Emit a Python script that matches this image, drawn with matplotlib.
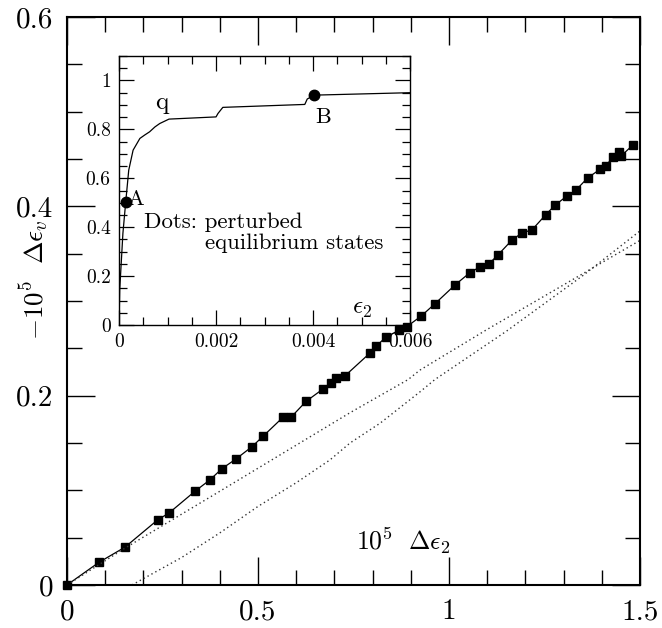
import numpy as np
import matplotlib.pyplot as plt
import matplotlib.ticker as ticker

plt.rcParams['font.family'] = 'serif'
plt.rcParams['font.serif'] = ['cmr10']
plt.rcParams['mathtext.fontset'] = 'cm'
plt.rcParams['axes.formatter.use_mathtext'] = True

# main panel: perturbed equilibrium states (squares joined by solid line)
de2 = [0.0, 0.084, 0.152, 0.238, 0.267, 0.335, 0.374, 0.406, 0.442, 0.484,
       0.513, 0.565, 0.586, 0.626, 0.670, 0.691, 0.704, 0.728, 0.793, 0.809,
       0.835, 0.869, 0.890, 0.927, 0.963, 1.016, 1.055, 1.081, 1.104, 1.129,
       1.164, 1.191, 1.217, 1.253, 1.277, 1.309, 1.332, 1.363, 1.395, 1.411,
       1.429, 1.445, 1.450, 1.482]
dev = [0.0, 0.024, 0.040, 0.069, 0.076, 0.099, 0.111, 0.123, 0.133, 0.146,
       0.157, 0.177, 0.177, 0.194, 0.207, 0.213, 0.219, 0.221, 0.245, 0.252,
       0.262, 0.269, 0.273, 0.284, 0.297, 0.317, 0.330, 0.336, 0.339, 0.349,
       0.364, 0.372, 0.375, 0.391, 0.401, 0.411, 0.417, 0.430, 0.439, 0.443,
       0.452, 0.457, 0.453, 0.465]

# dotted curves
dot1_x = [0.0, 0.152, 0.40, 0.741, 0.893, 0.924, 1.10, 1.351, 1.5]
dot1_y = [0.0, 0.039, 0.099, 0.182, 0.217, 0.227, 0.270, 0.329, 0.364]
dot2_x = [0.17, 0.30, 0.40, 0.50, 0.60, 0.688, 0.741, 0.82, 0.924, 0.963, 1.15, 1.351, 1.5]
dot2_y = [0.0, 0.029, 0.055, 0.083, 0.108, 0.132, 0.150, 0.171, 0.204, 0.217, 0.268, 0.327, 0.374]

# inset: q vs eps2
eps2 = [0.0, 0.000014, 0.00008, 0.000137, 0.0002, 0.00029, 0.00043, 0.00053,
        0.00063, 0.00074, 0.00084, 0.00103, 0.0020, 0.00204, 0.00214, 0.00383,
        0.00388, 0.00402, 0.0060]
q = [0.0, 0.143, 0.375, 0.501, 0.633, 0.715, 0.763, 0.777, 0.790, 0.810,
     0.824, 0.842, 0.851, 0.865, 0.890, 0.902, 0.924, 0.940, 0.950]
dots_x = [0.000137, 0.00402]
dots_y = [0.501, 0.940]

fig = plt.figure(figsize=(6.62, 6.28), dpi=100)
ax = fig.add_axes([0.1012, 0.0685, 0.8656, 0.9045])
ax.set_zorder(2)
ax.patch.set_visible(False)

ax.plot(de2, dev, color='black', lw=0.9, marker='s', ms=5.5, clip_on=False)
ax.plot(dot1_x, dot1_y, color='#333333', lw=1.0, ls=(0, (1, 2.2)))
ax.plot(dot2_x, dot2_y, color='#333333', lw=1.0, ls=(0, (1, 2.2)))

ax.set_xlim(0, 1.5)
ax.set_ylim(0, 0.6)
ax.xaxis.set_major_locator(ticker.MultipleLocator(0.5))
ax.xaxis.set_minor_locator(ticker.MultipleLocator(0.1))
ax.yaxis.set_major_locator(ticker.MultipleLocator(0.2))
ax.yaxis.set_minor_locator(ticker.MultipleLocator(0.05))
ax.xaxis.set_major_formatter(ticker.FuncFormatter(lambda v, p: '%g' % v))
ax.yaxis.set_major_formatter(ticker.FuncFormatter(lambda v, p: '%g' % v))
ax.tick_params(which='both', direction='in', top=True, right=True,
               labelsize=21, pad=10, width=1.0)
ax.tick_params(which='major', length=20)
ax.tick_params(which='minor', length=11)
for s in ax.spines.values():
    s.set_linewidth(1.5)

ax.text(0.757, 0.037, r'$10^5\ \ \Delta\epsilon_2$', fontsize=18.5)
ax.text(-0.058, 0.537, r'$-10^5\ \ \Delta\epsilon_v$', fontsize=19.5,
        rotation=90, ha='center', va='center', transform=ax.transAxes)

# inset
axi = fig.add_axes([0.1798, 0.4825, 0.4396, 0.4283])
axi.set_zorder(1)
axi.plot(eps2, q, color='black', lw=0.9)
axi.plot(dots_x, dots_y, 'o', color='black', ms=7.5)
axi.set_xlim(0, 0.006)
axi.set_ylim(0, 1.1)
axi.xaxis.set_major_locator(ticker.MultipleLocator(0.002))
axi.xaxis.set_minor_locator(ticker.MultipleLocator(0.0005))
axi.yaxis.set_major_locator(ticker.MultipleLocator(0.2))
axi.yaxis.set_minor_locator(ticker.MultipleLocator(0.05))
axi.xaxis.set_major_formatter(ticker.FuncFormatter(lambda v, p: '%g' % round(v, 4)))
axi.yaxis.set_major_formatter(ticker.FuncFormatter(lambda v, p: '%g' % round(v, 2)))
axi.tick_params(which='both', direction='in', top=True, right=True,
                labelsize=14, pad=6, width=0.9)
axi.tick_params(which='major', length=11)
axi.tick_params(which='minor', length=6)
for s in axi.spines.values():
    s.set_linewidth(1.0)

axi.text(0.00089, 0.91, 'q', fontsize=18, ha='center', va='center')
axi.text(0.00016, 0.515, 'A', fontsize=16, ha='left', va='center')
axi.text(0.0042, 0.85, 'B', fontsize=16, ha='center', va='center')
axi.text(0.00052, 0.42, 'Dots: perturbed', fontsize=16.5, ha='left', va='center')
axi.text(0.00178, 0.335, 'equilibrium states', fontsize=16.5, ha='left', va='center')
axi.text(0.0050, 0.065, r'$\epsilon_2$', fontsize=18, ha='center', va='center')

fig.savefig('out.png', dpi=100)
